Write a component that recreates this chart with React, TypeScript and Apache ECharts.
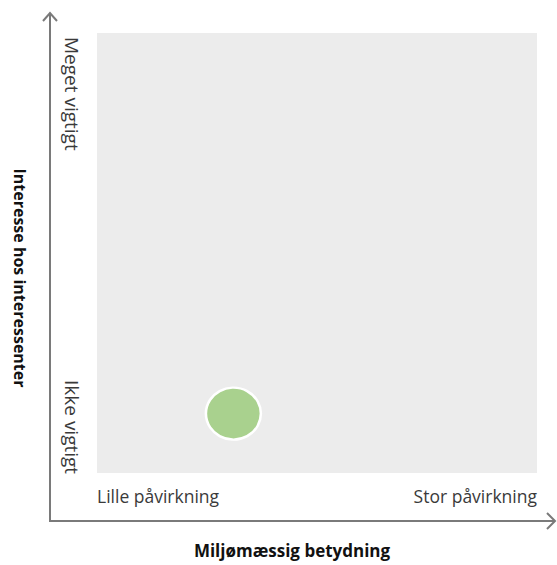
import React, { useEffect, useRef } from "react";
import * as echarts from "echarts";

const xTickLabels = ["Lille påvirkning", "Stor påvirkning"];
const yTickLabels = ["Ikke vigtigt", "Meget vigtigt"];
const xAxisTitle = "Miljømæssig betydning";
const yAxisTitle = "Interesse hos interessenter";
const pointX = [3.1];
const pointY = [1.35];

export default function App() {
  const ref = useRef<HTMLDivElement>(null);
  useEffect(() => {
    if (!ref.current) return;
    const chart = echarts.init(ref.current, undefined, { renderer: "svg" });
    const lineColor = "#7a7a7a";
    const labelFont = "Open Sans";
    const labelColor = "#3a3a3a";
    chart.setOption({
      animation: false,
      backgroundColor: "#ffffff",
      grid: {
        left: 97,
        right: 20,
        top: 33,
        bottom: 92,
        show: true,
        backgroundColor: "#ececec",
        borderWidth: 0,
      },
      xAxis: { type: "value", min: 0, max: 10, show: false },
      yAxis: { type: "value", min: 0, max: 10, show: false },
      series: [
        {
          type: "scatter",
          data: pointX.map((x, i) => [x, pointY[i]]),
          symbol: "circle",
          symbolSize: [55, 52],
          itemStyle: {
            color: "#a9d18e",
            borderColor: "#ffffff",
            borderWidth: 2.5,
            opacity: 1,
          },
        },
      ],
      graphic: [
        { type: "line", shape: { x1: 50, y1: 13, x2: 50, y2: 521 }, style: { stroke: lineColor, lineWidth: 2 } },
        { type: "polyline", shape: { points: [[43, 21], [50, 13], [57, 21]] }, style: { stroke: lineColor, lineWidth: 2, fill: null } },
        { type: "line", shape: { x1: 49, y1: 521, x2: 555, y2: 521 }, style: { stroke: lineColor, lineWidth: 2 } },
        { type: "polyline", shape: { points: [[547, 513], [555, 521], [547, 529]] }, style: { stroke: lineColor, lineWidth: 2, fill: null } },
        { type: "text", x: 97, y: 496, style: { text: xTickLabels[0], font: `17.5px "${labelFont}"`, fill: labelColor, align: "left", verticalAlign: "middle" } },
        { type: "text", x: 537, y: 496, style: { text: xTickLabels[1], font: `17.5px "${labelFont}"`, fill: labelColor, align: "right", verticalAlign: "middle" } },
        { type: "text", x: 72, y: 380, rotation: -Math.PI / 2, style: { text: yTickLabels[0], font: `19px "${labelFont}"`, fill: labelColor, align: "left", verticalAlign: "middle" } },
        { type: "text", x: 72, y: 37, rotation: -Math.PI / 2, style: { text: yTickLabels[1], font: `19px "${labelFont}"`, fill: labelColor, align: "left", verticalAlign: "middle" } },
        { type: "text", x: 292, y: 550, style: { text: xAxisTitle, font: `bold 17px "${labelFont}"`, fill: "#111111", align: "center", verticalAlign: "middle" } },
        { type: "text", x: 20, y: 278, rotation: -Math.PI / 2, style: { text: yAxisTitle, font: `bold 16px "${labelFont}"`, fill: "#111111", align: "center", verticalAlign: "middle" } },
      ],
    });
    return () => chart.dispose();
  }, []);
  return <div ref={ref} style={{ width: 557, height: 565, position: "absolute", left: 0, top: 0 }} />;
}
